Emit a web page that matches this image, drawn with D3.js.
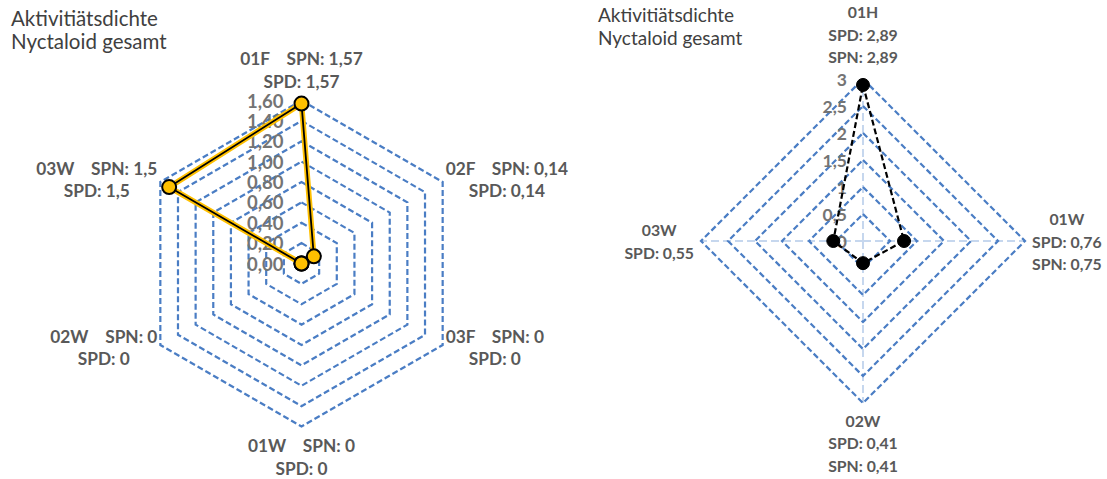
<!DOCTYPE html>
<html><head><meta charset="utf-8">
<script src="https://cdn.jsdelivr.net/npm/d3@7"></script>
<style>body{margin:0;background:#fff;} svg{display:block}</style>
</head><body>
<svg id="chart" width="1107" height="479"></svg>
<script>
const titleLines = ["Aktivitiätsdichte", "Nyctaloid gesamt"];

// Left radar (hexagon)
const leftCategories = ["01F", "02F", "03F", "01W", "02W", "03W"];
const leftSPN = [1.57, 0.14, 0, 0, 0, 1.5];
const leftSPD = [1.57, 0.14, 0, 0, 0, 1.5];
const leftTicks = [0, 0.2, 0.4, 0.6, 0.8, 1.0, 1.2, 1.4, 1.6];

// Right radar (diamond)
const rightCategories = ["01H", "01W", "02W", "03W"];
const rightSPD = [2.89, 0.76, 0.41, 0.55];
const rightSPN = [2.89, 0.75, 0.41, null];
const rightTicks = [0, 0.5, 1, 1.5, 2, 2.5, 3];

const svg = d3.select("#chart");
const FONT = "Lato, 'Open Sans', sans-serif";
const comma = v => String(v).replace(".", ",");
const fmt2 = v => d3.format(".2f")(v).replace(".", ",");

function title(x, y0, size, lh) {
  const t = svg.append("text").attr("x", x).attr("y", y0)
    .attr("font-family", FONT).attr("font-size", size).attr("fill", "#404040");
  titleLines.forEach((s, i) => t.append("tspan").attr("x", x).attr("y", y0 + i * lh).text(s));
}

function radar(cfg) {
  const g = svg.append("g");
  const n = cfg.cats.length;
  const ang = i => i * 2 * Math.PI / n;
  const r = d3.scaleLinear().domain([0, d3.max(cfg.ticks)]).range([0, cfg.R]);
  const pt = (i, v) => [cfg.cx + r(v) * Math.sin(ang(i)), cfg.cy - r(v) * Math.cos(ang(i))];

  if (cfg.spokes) {
    cfg.cats.forEach((c, i) => {
      const p = pt(i, d3.max(cfg.ticks));
      g.append("line").attr("x1", cfg.cx).attr("y1", cfg.cy).attr("x2", p[0]).attr("y2", p[1])
        .attr("stroke", "#c6d7ee").attr("stroke-width", 2).attr("stroke-dasharray", "8,4");
    });
  }
  const ring = d3.lineRadial().angle((d, i) => ang(i)).radius(d => r(d)).curve(d3.curveLinearClosed);
  cfg.ticks.filter(t => t > 0).forEach(t => {
    g.append("path").attr("transform", `translate(${cfg.cx},${cfg.cy})`)
      .attr("d", ring(cfg.cats.map(() => t)))
      .attr("fill", "none").attr("stroke", "#4a7dc4").attr("stroke-width", 2.2)
      .attr("stroke-dasharray", "6,3");
  });
  cfg.ticks.forEach(t => {
    g.append("text").attr("x", cfg.cx - cfg.tickOff).attr("y", cfg.cy - r(t))
      .attr("text-anchor", "end").attr("dominant-baseline", "central")
      .attr("font-family", FONT).attr("font-weight", "bold").attr("font-size", cfg.tickSize)
      .attr("fill", "#747474").text(cfg.tickFmt(t));
  });
  const line = d3.lineRadial().angle((d, i) => ang(i)).radius(d => r(d)).curve(d3.curveLinearClosed);
  cfg.series.forEach(s => {
    g.append("path").attr("transform", `translate(${cfg.cx},${cfg.cy})`)
      .attr("d", line(s.values)).attr("fill", "none").attr("stroke", s.color)
      .attr("stroke-width", s.width).attr("stroke-dasharray", s.dash || null)
      .attr("stroke-linejoin", "round");
  });
  cfg.markerValues.forEach((v, i) => {
    const p = pt(i, v);
    g.append("circle").attr("cx", p[0]).attr("cy", p[1]).attr("r", cfg.marker.r)
      .attr("fill", cfg.marker.fill).attr("stroke", "#000").attr("stroke-width", cfg.marker.sw);
  });
  cfg.cats.forEach((c, i) => {
    const lines = cfg.labelLines(i);
    const a = ang(i), dx = Math.sin(a), dy = -Math.cos(a);
    const vtx = pt(i, d3.max(cfg.ticks));
    const t = g.append("text").attr("font-family", FONT).attr("font-weight", "bold")
      .attr("font-size", cfg.labelSize).attr("fill", "#595959").attr("text-anchor", "middle");
    const spans = lines.map(s => t.append("tspan").text(s));
    const w = d3.max(spans, sp => sp.node().getComputedTextLength());
    const lh = cfg.labelLH, h = lh * lines.length;
    let cx, top;
    if (dx > 0.1) cx = vtx[0] + cfg.sideGap + w / 2;
    else if (dx < -0.1) cx = vtx[0] - cfg.sideGap - w / 2;
    else cx = vtx[0];
    if (dy < -0.9) top = vtx[1] - cfg.vGapTop - h;
    else if (dy > 0.9) top = vtx[1] + cfg.vGapBot;
    else top = vtx[1] + dy * cfg.sideDy - h / 2;
    spans.forEach((sp, k) => sp.attr("x", cx).attr("y", top + lh * k + lh * 0.5)
      .attr("dominant-baseline", "central"));
  });
}

title(11, 26, 20.5, 23);
title(598, 22, 19, 23);

radar({
  cx: 301.5, cy: 263.5, R: 163, cats: leftCategories, ticks: leftTicks,
  tickOff: 18, tickSize: 18.5, tickFmt: fmt2, spokes: false,
  series: [
    { values: leftSPD, color: "#ffc000", width: 5.5 },
    { values: leftSPN, color: "#000000", width: 1.8 }
  ],
  markerValues: leftSPD, marker: { r: 7, fill: "#ffc000", sw: 2 },
  labelLines: i => [leftCategories[i] + "\u00a0\u00a0\u00a0\u00a0SPN: " + comma(leftSPN[i]), "SPD: " + comma(leftSPD[i])],
  labelSize: 17.3, labelLH: 22.5, sideGap: 3, vGapTop: 8, vGapBot: 8, sideDy: 5
});

radar({
  cx: 863, cy: 241, R: 162, cats: rightCategories, ticks: rightTicks,
  tickOff: 16, tickSize: 17.5, tickFmt: comma, spokes: true,
  series: [{ values: rightSPD, color: "#000000", width: 2.2, dash: "6,3" }],
  markerValues: rightSPD, marker: { r: 6.5, fill: "#000", sw: 1 },
  labelLines: i => {
    const l = [rightCategories[i], "SPD: " + comma(rightSPD[i])];
    if (rightSPN[i] != null) l.push("SPN: " + comma(rightSPN[i]));
    return l;
  },
  labelSize: 15.8, labelLH: 22.5, sideGap: 7, vGapTop: 11, vGapBot: 6, sideDy: 0
});
</script>
</body></html>
